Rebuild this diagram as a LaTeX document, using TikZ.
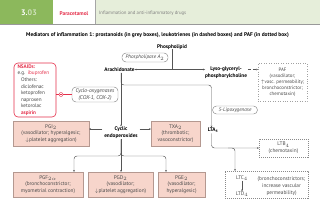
\documentclass[tikz,border=0pt]{standalone}
\usepackage{fontspec}
\setmainfont{PT Sans}
\usetikzlibrary{arrows.meta,calc}
\definecolor{hdgreen}{HTML}{8CB85C}
\definecolor{hdlight}{HTML}{E6EEDA}
\definecolor{nsred}{HTML}{E5304B}
\definecolor{pgfill}{HTML}{F7D5CB}
\definecolor{pgdraw}{HTML}{B49890}
\definecolor{txtgray}{HTML}{4A4A4A}
\definecolor{lngray}{HTML}{555555}
\definecolor{enzgray}{HTML}{8A8A8A}
\begin{document}
\begin{tikzpicture}[x=1pt,y=-1pt,
  every node/.style={inner sep=0pt,outer sep=0pt},
  sm/.style={font=\fontsize{5.3}{6.7}\selectfont,text=txtgray,align=center},
  lbl/.style={font=\fontsize{5.3}{7}\selectfont\bfseries,align=center},
  pgbox/.style={sm,draw=pgdraw,fill=pgfill,line width=0.5pt},
  ltbox/.style={sm,draw=enzgray,dashed,dash pattern=on 1.2pt off 0.8pt,line width=0.45pt},
  pafbox/.style={sm,font=\fontsize{4.9}{5.9}\selectfont,draw=enzgray!80,dotted,line width=0.45pt},
  enz/.style={sm,font=\fontsize{5.2}{6.2}\selectfont\itshape,draw=enzgray,fill=white,rounded corners=4pt,line width=0.45pt},
  cline/.style={draw=lngray,line width=0.45pt},
  arr/.style={cline,-{Stealth[length=2pt,width=1.7pt]}},
]
\useasboundingbox (0,0) rectangle (320,215);
% header
\fill[hdgreen] (0,0) rectangle (53,24);
\fill[white] (53,0) rectangle (95,24);
\fill[hdlight] (95,0) rectangle (320,24);
\draw[gray!70,line width=0.5pt] (95,0) -- (95,24);
\draw[gray!80,line width=0.7pt] (0,24.4) -- (320,24.4);
\node[font=\fontsize{8}{9}\selectfont\bfseries] (num) at (29,13) {\textcolor{white}{3.}\textcolor{white!60!hdgreen}{03}};
\node[font=\fontsize{5.4}{6}\selectfont\bfseries,text=nsred] (par) at (74,13.5) {Paracetamol};
\node[font=\fontsize{4.8}{5}\selectfont,text=gray,anchor=west] (chap) at (99,13.5) {Inflammation and anti-inflammatory drugs};
% title
\node[font=\fontsize{5.45}{6}\selectfont\bfseries] (title) at (157.5,35) {Mediators of inflammation 1: prostanoids (in grey boxes), leukotrienes (in dashed boxes) and PAF (in dotted box)};
% top part
\node[lbl] (phl) at (172,47) {Phospholipid};
\node[enz,minimum width=46pt,minimum height=9pt] (pla) at (145,57.5) {Phospholipase A$_2$};
\node[lbl] (ara) at (119.5,69.5) {Arachidonate};
\node[lbl] (lyso) at (226,73) {Lyso-glyceryl-\\phosphorylcholine};
\node[pafbox,minimum width=49pt,minimum height=38pt] (paf) at (282.5,82) {PAF\\(vasodilator;\\$\uparrow$vasc. permeability;\\bronchoconstrictor;\\chemotaxin)};
\coordinate (j1) at (172,69.5);
\draw[cline] (phl.south) -- (j1);
\draw[arr] (j1) -- (ara.east);
\draw[arr] (j1) -- (lyso.west |- j1);
\coordinate (pj) at ($(lyso.east)+(1,-3.5)$);
\draw[arr,densely dashed] (pj) -- (paf.west |- pj);
% NSAIDs
\node[draw=nsred,line width=0.6pt,rounded corners=4pt,fill=white,text width=35pt,inner xsep=3.5pt,inner ysep=1.5pt,minimum height=54pt,align=left,font=\fontsize{5.2}{6.6}\selectfont,text=txtgray] (nsaid) at (35,90) {\textcolor{nsred}{\bfseries NSAIDs:}\\e.g. \textcolor{nsred}{ibuprofen}\\\hspace*{3.5pt}Others:\\\hspace*{3.5pt}diclofenac\\\hspace*{3.5pt}ketoprofen\\\hspace*{3.5pt}naproxen\\\hspace*{3.5pt}ketorolac\\\hspace*{3.5pt}\textcolor{nsred}{\bfseries aspirin}};
\node[enz,font=\fontsize{5.5}{6.6}\selectfont\itshape,minimum width=46pt,minimum height=15pt] (cox) at (95,94.5) {Cyclo-oxygenases\\(COX-1, COX-2)};
\draw[draw=nsred,line width=0.5pt] (nsaid.east |- cox) -- (cox.west);
\node[draw=nsred,fill=white,circle,minimum size=4pt,line width=0.45pt] (inh) at (61,94.5) {};
\draw[nsred,line width=0.45pt] ($(inh)+(-1.2,0)$) -- ($(inh)+(1.2,0)$);
% cyclic endoperoxides
\node[lbl] (cyc) at (121,132.5) {Cyclic\\endoperoxides};
\node[lbl] (lta) at (213,130) {LTA$_\mathbf{4}$};
\coordinate (ad) at (121,72.5);
\draw[arr] (ad) -- (cyc.north);
\draw[arr,rounded corners=3pt] (ad) -- (121,85) -- (211.5,85) -- (lta.north -| 211.5,0);
\node[enz,minimum width=45pt,minimum height=8pt] (lox) at (235,110) {5-Lipoxygenase};
\node[pgbox,minimum width=76pt,minimum height=24.5pt] (pgi) at (51,133.5) {PGI$_2$\\(vasodilator; hyperalgesic;\\$\downarrow$platelet aggregation)};
\node[pgbox,minimum width=49pt,minimum height=24.5pt] (txa) at (175.5,133.5) {TXA$_2$\\(thrombotic;\\vasoconstrictor)};
\draw[arr] ($(cyc.west)+(-2,-3.5)$) coordinate (cw) -- (pgi.east |- cw);
\draw[arr] ($(cyc.east)+(2,-3.5)$) coordinate (ce) -- (txa.west |- ce);
% bottom prostanoids
\node[pgbox,minimum width=70pt,minimum height=25pt] (pgf) at (48,184.5) {PGF$_{2\alpha}$\\(bronchoconstrictor;\\myometrial contraction)};
\node[pgbox,minimum width=65pt,minimum height=25pt] (pgd) at (120.5,184.5) {PGD$_2$\\(vasodilator;\\$\downarrow$platelet aggregation)};
\node[pgbox,minimum width=47pt,minimum height=25pt] (pge) at (181.5,184.5) {PGE$_2$\\(vasodilator;\\hyperalgesic)};
\coordinate (cs) at ($(cyc.south)+(0,1)$);
\draw[arr] (cs) -- (pgd.north -| cs);
\draw[arr,rounded corners=3pt] (cs) -- (121,156) -- (74,156) -- (pgf.north -| 74,0);
\draw[arr,rounded corners=3pt] (cs) -- (121,156) -- (166,156) -- (pge.north -| 166,0);
% leukotrienes
\node[ltbox,minimum width=49pt,minimum height=18pt] (ltb) at (283.5,148) {LTB$_4$\\(chemotaxin)};
\node[ltbox,minimum width=83pt,minimum height=27pt] (ltcbox) at (266.5,184.5) {};
\node[sm] (ltc) at (242,178) {LTC$_4$};
\node[sm] (ltd) at (242,194) {LTD$_4$};
\node[sm] (ltdesc) at (281.5,186) {(bronchoconstrictors;\\increase vascular\\permeability)};
\draw[arr] (ltc.south) -- (ltd.north);
\coordinate (ls) at ($(lta.south)+(-1.5,1)$);
\draw[arr,rounded corners=3pt] (ls) -- (211.5,148) -- (ltb.west);
\draw[arr,rounded corners=3pt] (228,148) -- (235,148) -- (ltcbox.north -| 235,0);
\end{tikzpicture}
\end{document}
